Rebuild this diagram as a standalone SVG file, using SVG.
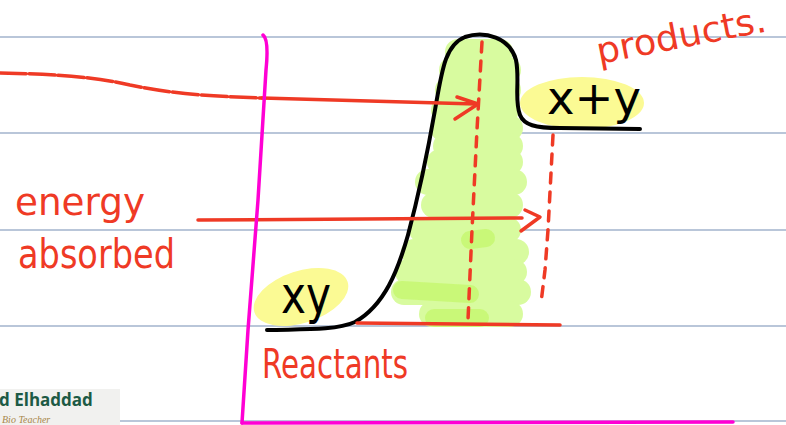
<svg xmlns="http://www.w3.org/2000/svg" width="786" height="425" viewBox="0 0 786 425">
<defs>
<style>
.rule{stroke:#b9c6d9;stroke-width:2;fill:none}
.green{stroke:#d8fb9f;stroke-width:26;stroke-linecap:round;fill:none}
.green2{stroke:#c6f76e;stroke-width:18;stroke-linecap:round;fill:none;opacity:0.8}
.red{stroke:#ef3a25;stroke-width:3.5;fill:none;stroke-linecap:round;stroke-linejoin:round}
.dash{stroke-dasharray:10 9}
.hand{font-family:"DejaVu Sans","Noto Sans",sans-serif;fill:#ef3a25}
.ink{font-family:"DejaVu Sans","Noto Sans",sans-serif;fill:#000}
</style>
</defs>
<rect width="786" height="425" fill="#fff"/>
<g id="rules">
<line class="rule" x1="0" y1="37" x2="786" y2="37"/>
<line class="rule" x1="0" y1="133" x2="786" y2="133"/>
<line class="rule" x1="0" y1="230" x2="786" y2="230"/>
<line class="rule" x1="0" y1="326" x2="786" y2="326"/>
<line class="rule" x1="120" y1="421" x2="786" y2="421"/>
</g>
<g id="highlights">
<ellipse cx="582" cy="103" rx="62" ry="26" fill="#fbfa94"/>
<ellipse cx="301" cy="297" rx="49" ry="26" fill="#fbfa94" transform="rotate(-18 301 297)"/>
</g>
<g id="green-fill">
<line class="green" x1="458" y1="52" x2="500" y2="52"/>
<line class="green" x1="452" y1="70" x2="508" y2="70"/>
<line class="green" x1="448" y1="90" x2="508" y2="90"/>
<line class="green" x1="444" y1="110" x2="506" y2="110"/>
<line class="green" x1="443" y1="128" x2="510" y2="128"/>
<line class="green" x1="446" y1="146" x2="510" y2="146"/>
<line class="green" x1="440" y1="162" x2="510" y2="162"/>
<line class="green" x1="428" y1="182" x2="514" y2="182"/>
<line class="green" x1="434" y1="205" x2="510" y2="205"/>
<line class="green" x1="422" y1="230" x2="508" y2="230"/>
<line class="green" x1="414" y1="252" x2="516" y2="252"/>
<line class="green" x1="408" y1="272" x2="514" y2="272"/>
<line class="green" x1="404" y1="292" x2="518" y2="292"/>
<line class="green" x1="432" y1="314" x2="510" y2="314"/>
<line class="green2" x1="402" y1="290" x2="470" y2="294"/>
<line class="green2" x1="434" y1="318" x2="480" y2="318"/>
<line class="green2" x1="470" y1="240" x2="486" y2="238"/>
</g>
<g id="curve">
<path d="M267,330 C300,329 335,331 355,322 C385,305 398,270 408,235 C420,190 428,150 435,110 C442,70 445,45 465,37 C485,30 510,38 516,60 C520,80 514,100 520,115 C524,125 535,128 560,128 L640,129" fill="none" stroke="#000" stroke-width="4" stroke-linecap="round" stroke-linejoin="round"/>
</g>
<g id="connectors">
<path class="red" d="M0,73 C60,74 100,78 130,85 C170,93 200,96 262,98" stroke-dasharray="26 3"/>
<path class="red" d="M262,98 L476,104"/>
<path class="red" d="M457,97 L478,104 L455,119"/>
<path class="red" d="M198,220 L522,218"/>
<path class="red" d="M525,210 L540,217 L521,231"/>
<path class="red" d="M357,323 L560,325"/>
<path class="red dash" d="M482,42 L477,130 L472,230 L468,320"/>
<path class="red dash" d="M553,135 L548,230 L545,270 L541,303"/>
</g>
<g id="labels">
<text class="ink" x="547" y="114" font-size="46" textLength="94" lengthAdjust="spacingAndGlyphs">x+y</text>
<text class="ink" x="281" y="313" font-size="52" textLength="50" lengthAdjust="spacingAndGlyphs">xy</text>
<text class="hand" x="15" y="215" font-size="38" textLength="130" lengthAdjust="spacingAndGlyphs">energy</text>
<text class="hand" x="18" y="268" font-size="40" textLength="157" lengthAdjust="spacingAndGlyphs">absorbed</text>
<text class="hand" x="262" y="378" font-size="40" textLength="146" lengthAdjust="spacingAndGlyphs">Reactants</text>
<text class="hand" x="599" y="64" font-size="36" textLength="172" lengthAdjust="spacingAndGlyphs" transform="rotate(-11 599 64)">products.</text>
</g>
<g id="axes">
<path d="M263,35 C267,38 268,50 266,70 L258,200 L248,330 L242,423" fill="none" stroke="#ff00d4" stroke-width="3.5" stroke-linecap="round"/>
<path d="M242,423 L733,422" fill="none" stroke="#ff00d4" stroke-width="3.5" stroke-linecap="round"/>
</g>
<g id="logo">
<rect x="0" y="389" width="120" height="36" fill="#f1f1ef"/>
<text x="-1" y="406" font-family="'Open Sans','Noto Sans',sans-serif" font-weight="bold" font-size="17" fill="#1d5a45">d Elhaddad</text>
<text x="2" y="423" font-family="'Liberation Serif',serif" font-style="italic" font-size="10" fill="#a8874a">Bio Teacher</text>
</g>
</svg>
